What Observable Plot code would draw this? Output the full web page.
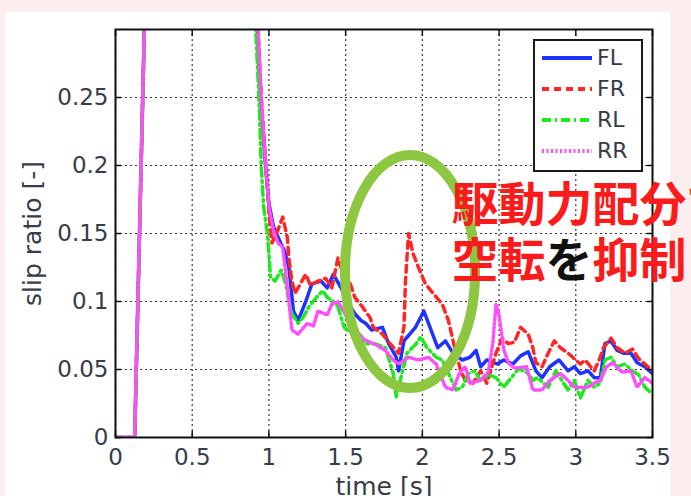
<!DOCTYPE html>
<html>
<head>
<meta charset="utf-8">
<script src="https://cdn.jsdelivr.net/npm/d3@7"></script>
<script src="https://cdn.jsdelivr.net/npm/@observablehq/plot@0.6"></script>
<style>
  html, body { margin: 0; padding: 0; background: #fcedee; }
  #wrap { position: relative; width: 691px; height: 496px; overflow: hidden; }
  #panel { position: absolute; left: 5px; top: 12px; width: 665px; height: 484px; background: #fff; }
  #chart { position: absolute; left: 0; top: 0; }
  #legend { position: absolute; left: 533px; top: 39px; width: 110px; height: 133px; box-sizing: border-box;
            border: 2px solid #1a1a1a; background: #fff; font-family: "DejaVu Sans"; font-size: 22px; color: #353b48; }
  .row { position: absolute; left: 0; width: 100px; height: 26px; }
  .row svg { position: absolute; left: 7px; top: 0; }
  .row span { position: absolute; left: 62px; top: 0; line-height: 26px; }
  g[aria-label="x-axis label"] text, g[aria-label="y-axis label"] text { font-size: 25px; }
</style>
</head>
<body>
<div id="wrap"><div id="panel"></div><div id="chart"></div><div id="legend"></div></div>
<script>
// ---- data ----
const xTicks = [0, 0.5, 1, 1.5, 2, 2.5, 3, 3.5];
const yTicks = [0, 0.05, 0.1, 0.15, 0.2, 0.25];
const seriesNames = ["FL", "FR", "RL", "RR"];

// [time s, slip ratio]
const FL = [[0,0],[0.125,0],[0.19,0.31],[0.92,0.31],[0.945,0.25],[0.978,0.2],[1.0,0.172],[1.03,0.155],[1.076,0.143],[1.10,0.138],[1.13,0.125],[1.16,0.093],[1.19,0.086],[1.24,0.10],[1.28,0.113],[1.34,0.115],[1.38,0.110],[1.42,0.12],[1.47,0.11],[1.51,0.10],[1.56,0.091],[1.60,0.086],[1.63,0.084],[1.67,0.079],[1.74,0.081],[1.78,0.069],[1.83,0.059],[1.845,0.049],[1.88,0.071],[1.91,0.075],[1.955,0.081],[2.01,0.093],[2.05,0.081],[2.10,0.066],[2.15,0.071],[2.20,0.062],[2.26,0.057],[2.31,0.059],[2.35,0.064],[2.38,0.052],[2.42,0.057],[2.49,0.054],[2.53,0.057],[2.59,0.054],[2.64,0.060],[2.69,0.063],[2.74,0.049],[2.78,0.044],[2.83,0.052],[2.89,0.057],[2.95,0.049],[2.99,0.052],[3.03,0.047],[3.08,0.049],[3.12,0.044],[3.16,0.044],[3.19,0.069],[3.23,0.071],[3.27,0.064],[3.31,0.062],[3.36,0.062],[3.40,0.055],[3.45,0.052],[3.5,0.047]];
const FR = [[0,0],[0.125,0],[0.19,0.31],[0.925,0.31],[0.95,0.25],[0.98,0.2],[1.0,0.165],[1.02,0.143],[1.05,0.15],[1.09,0.162],[1.12,0.147],[1.13,0.132],[1.15,0.115],[1.17,0.106],[1.19,0.110],[1.24,0.12],[1.27,0.112],[1.32,0.115],[1.37,0.117],[1.41,0.11],[1.45,0.132],[1.49,0.118],[1.53,0.113],[1.56,0.103],[1.61,0.096],[1.66,0.088],[1.68,0.081],[1.74,0.076],[1.79,0.069],[1.845,0.062],[1.88,0.081],[1.89,0.115],[1.91,0.15],[1.94,0.135],[1.975,0.125],[2.02,0.113],[2.07,0.106],[2.13,0.098],[2.17,0.086],[2.20,0.071],[2.25,0.049],[2.28,0.042],[2.33,0.040],[2.38,0.049],[2.42,0.040],[2.48,0.062],[2.52,0.073],[2.56,0.069],[2.60,0.070],[2.64,0.081],[2.69,0.076],[2.72,0.066],[2.74,0.055],[2.78,0.052],[2.82,0.062],[2.86,0.071],[2.90,0.066],[2.95,0.062],[2.98,0.059],[3.03,0.054],[3.06,0.057],[3.12,0.049],[3.16,0.059],[3.18,0.066],[3.23,0.073],[3.27,0.066],[3.32,0.062],[3.37,0.065],[3.41,0.058],[3.47,0.052],[3.5,0.049]];
const RL = [[0,0],[0.125,0],[0.19,0.31],[0.91,0.31],[0.935,0.25],[0.95,0.2],[0.965,0.17],[0.99,0.15],[1.0,0.135],[1.01,0.118],[1.04,0.115],[1.08,0.123],[1.11,0.113],[1.13,0.10],[1.15,0.091],[1.19,0.084],[1.22,0.088],[1.26,0.096],[1.31,0.103],[1.35,0.108],[1.38,0.103],[1.42,0.10],[1.45,0.096],[1.49,0.081],[1.55,0.076],[1.63,0.069],[1.69,0.069],[1.76,0.066],[1.81,0.047],[1.83,0.030],[1.86,0.044],[1.90,0.062],[1.96,0.069],[1.99,0.074],[2.03,0.066],[2.09,0.059],[2.13,0.057],[2.17,0.047],[2.22,0.035],[2.26,0.037],[2.30,0.047],[2.34,0.049],[2.38,0.042],[2.43,0.046],[2.48,0.044],[2.53,0.037],[2.58,0.044],[2.63,0.051],[2.69,0.047],[2.72,0.042],[2.75,0.044],[2.82,0.037],[2.87,0.049],[2.92,0.040],[2.95,0.035],[2.99,0.042],[3.03,0.029],[3.08,0.042],[3.12,0.037],[3.16,0.040],[3.19,0.057],[3.23,0.059],[3.27,0.052],[3.32,0.054],[3.37,0.049],[3.41,0.046],[3.45,0.037],[3.5,0.032]];
const RR = [[0,0],[0.125,0],[0.19,0.31],[0.925,0.31],[0.95,0.25],[0.978,0.2],[1.0,0.17],[1.03,0.152],[1.06,0.143],[1.09,0.14],[1.12,0.11],[1.15,0.079],[1.19,0.076],[1.25,0.084],[1.29,0.082],[1.32,0.093],[1.38,0.090],[1.41,0.098],[1.45,0.10],[1.50,0.09],[1.56,0.08],[1.62,0.072],[1.70,0.068],[1.76,0.064],[1.81,0.057],[1.845,0.054],[1.91,0.059],[1.975,0.057],[2.04,0.059],[2.09,0.054],[2.15,0.037],[2.20,0.035],[2.24,0.047],[2.28,0.052],[2.31,0.040],[2.38,0.042],[2.43,0.048],[2.46,0.07],[2.48,0.098],[2.50,0.09],[2.53,0.065],[2.56,0.055],[2.60,0.051],[2.68,0.052],[2.72,0.035],[2.78,0.035],[2.83,0.042],[2.90,0.047],[2.95,0.042],[2.99,0.037],[3.08,0.037],[3.12,0.040],[3.16,0.042],[3.20,0.052],[3.24,0.055],[3.30,0.048],[3.36,0.049],[3.40,0.037],[3.45,0.044],[3.5,0.040]];

// annotation text and ring (data coordinates)
const noteLine1 = "駆動力配分で";
const noteLine2 = ["空転", "を", "抑制"];
const noteAnchor = {t: 2.19, v1: 0.170, v2: 0.129};
const ring = {t: 1.923, v: 0.1217, rt: 0.424, rv: 0.0857};

// ---- styles ----
const seriesData = {FL, FR, RL, RR};
const seriesStyle = {
  FL: {stroke: "#1f33ff", dash: null},
  FR: {stroke: "#ff2626", dash: "7,5"},
  RL: {stroke: "#1fe81f", dash: "9,4,2,4"},
  RR: {stroke: "#ff4dff", dash: "2,2.5"}
};
const gridStyle = {stroke: "#222", strokeOpacity: 0.9, strokeWidth: 1.2, strokeDasharray: "2,3"};
const fmt = d => String(d);
const noteSize = 47;
const noteRed = "#fb1b1b", noteBlack = "#111";

const lineMarks = seriesNames.map(n => Plot.line(seriesData[n], {
  x: d => d[0], y: d => d[1], stroke: seriesStyle[n].stroke, strokeWidth: 3.5,
  strokeDasharray: seriesStyle[n].dash, clip: true
}));

const textCommon = {fontFamily: "Noto Sans CJK JP", fontWeight: "bold", fontSize: noteSize, textAnchor: "start", lineAnchor: "middle"};

const plot = Plot.plot({
  width: 691, height: 496,
  marginLeft: 115, marginRight: 39, marginTop: 29, marginBottom: 59,
  style: {background: "transparent", fontFamily: "DejaVu Sans", fontSize: "23px", color: "#363c49", overflow: "visible"},
  x: {domain: [0, 3.5]},
  y: {domain: [0, 0.3]},
  marks: [
    Plot.gridX(xTicks, gridStyle),
    Plot.gridY(yTicks, gridStyle),
    ...lineMarks,
    Plot.axisX(xTicks, {anchor: "bottom", tickSize: -6, tickPadding: 17, tickFormat: fmt, stroke: "#111", strokeWidth: 1.5,
      label: "time [s]", labelAnchor: "center", labelOffset: 57, labelArrow: "none"}),
    Plot.axisX(xTicks, {anchor: "top", tickSize: -6, tickFormat: () => "", stroke: "#111", strokeWidth: 1.5, label: null}),
    Plot.axisY(yTicks, {anchor: "left", tickSize: -6, tickPadding: 13, tickFormat: fmt, stroke: "#111", strokeWidth: 1.5,
      label: "slip ratio [-]", labelAnchor: "center", labelOffset: 92, labelArrow: "none"}),
    Plot.axisY(yTicks, {anchor: "right", tickSize: -6, tickFormat: () => "", stroke: "#111", strokeWidth: 1.5, label: null}),
    Plot.frame({stroke: "#111", strokeWidth: 2}),
    Plot.text([noteLine1], {...textCommon, x: noteAnchor.t, y: noteAnchor.v1, text: d => d, fill: noteRed}),
    Plot.text([noteLine2.join("")], {...textCommon, x: noteAnchor.t, y: noteAnchor.v2, text: d => d, fill: noteRed})
  ]
});

// colour the middle word of line 2 black (tspans inside the same text)
const textGroups = plot.querySelectorAll('g[aria-label="text"]');
const line2 = textGroups[1].querySelector("text");
line2.textContent = "";
noteLine2.forEach((part, i) => {
  const ts = document.createElementNS("http://www.w3.org/2000/svg", "tspan");
  ts.textContent = part;
  ts.setAttribute("fill", i === 1 ? noteBlack : noteRed);
  line2.appendChild(ts);
});

// green ring, through the plot's scales, drawn beneath the annotation text
const sx = plot.scale("x"), sy = plot.scale("y");
const cx = sx.apply(ring.t), cy = sy.apply(ring.v);
const rx = sx.apply(ring.t + ring.rt) - cx, ry = cy - sy.apply(ring.v + ring.rv);
const ell = document.createElementNS("http://www.w3.org/2000/svg", "ellipse");
ell.setAttribute("cx", cx); ell.setAttribute("cy", cy);
ell.setAttribute("rx", rx); ell.setAttribute("ry", ry);
ell.setAttribute("fill", "none"); ell.setAttribute("stroke", "#8dc641"); ell.setAttribute("stroke-width", 10);
plot.insertBefore(ell, textGroups[0]);

document.getElementById("chart").appendChild(plot);

// legend
const legend = d3.select("#legend");
seriesNames.forEach((n, i) => {
  const row = legend.append("div").attr("class", "row").style("top", (4 + i * 31) + "px");
  const s = row.append("svg").attr("width", 52).attr("height", 26);
  s.append("line").attr("x1", 0).attr("x2", 50).attr("y1", 13).attr("y2", 13)
    .attr("stroke", seriesStyle[n].stroke).attr("stroke-width", 4)
    .attr("stroke-dasharray", seriesStyle[n].dash);
  row.append("span").text(n);
});
</script>
</body>
</html>
